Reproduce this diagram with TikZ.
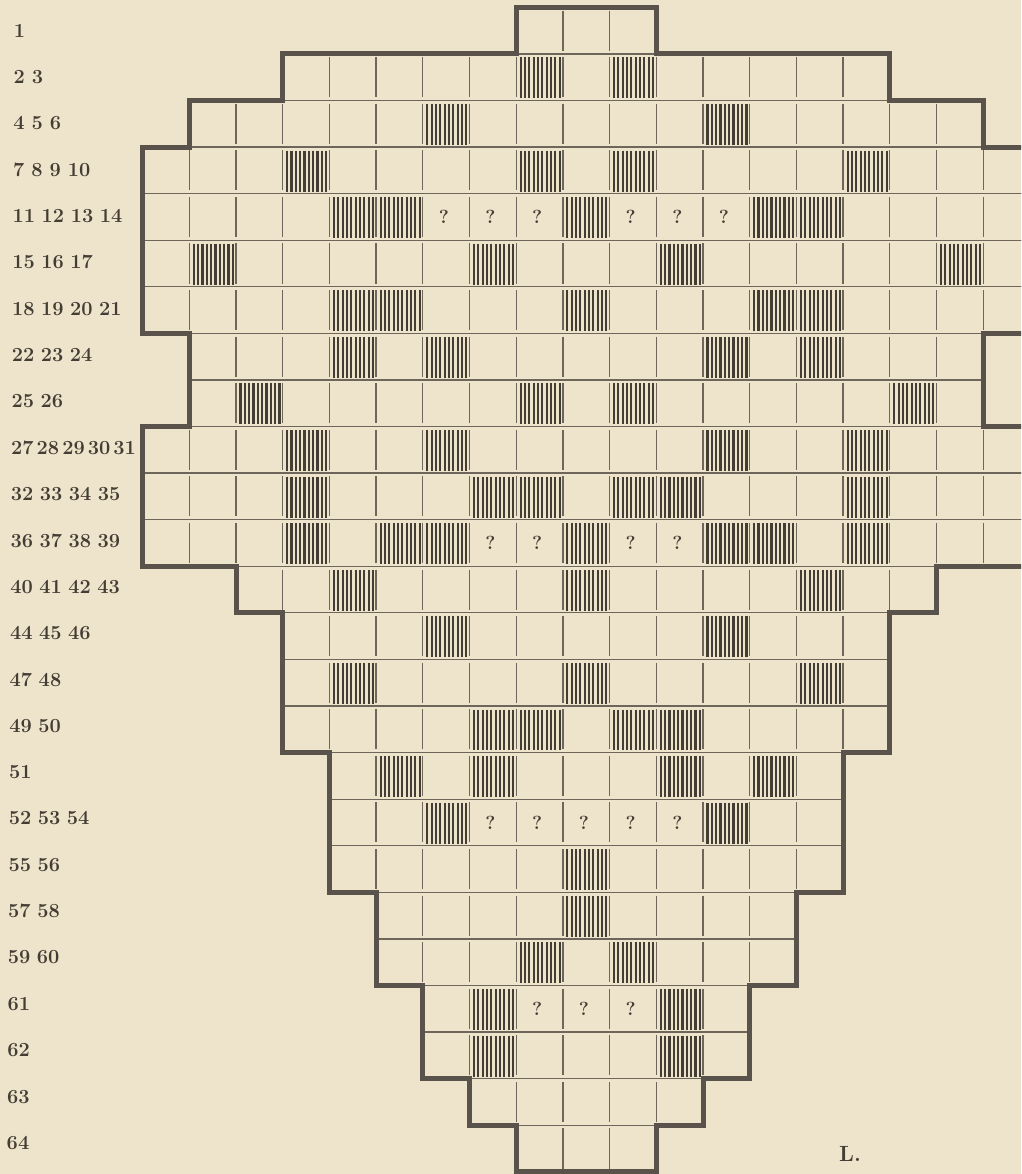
\documentclass[tikz,border=0pt]{standalone}
\usepackage{fontspec}
\definecolor{paper}{HTML}{EEE4CB}
\definecolor{gridc}{HTML}{6E665A}
\definecolor{inkc}{HTML}{443D34}
\definecolor{framec}{HTML}{5A534C}
\begin{document}
\begin{tikzpicture}[x=46.7pt, y=-46.58pt,
  gridline/.style={line width=1.3pt, draw=gridc},
  hatchline/.style={line width=2.1pt, draw=inkc},
  outline/.style={line width=5pt, draw=framec, line join=miter},
  rowlab/.style={anchor=west, inner sep=0pt, text=inkc, font=\fontsize{20}{20}\selectfont\bfseries},
  qmark/.style={inner sep=0pt, text=inkc, font=\fontsize{19}{19}\selectfont\bfseries}]
  \path[fill=paper, use as bounding box] (-142.6pt,7.3pt) rectangle (878.4pt,-1166.7pt);
  \clip (-142.6pt,7.3pt) rectangle (878.4pt,-1166.7pt);
  % thin grid, row by row: row/first column/last column
  \foreach \r/\a/\b in {0/8/10, 1/3/15, 2/1/17, 3/0/18, 4/0/18, 5/0/18, 6/0/18, 7/1/17, 8/1/17,
      9/0/18, 10/0/18, 11/0/18, 12/2/16, 13/3/15, 14/3/15, 15/3/15, 16/4/14, 17/4/14, 18/4/14,
      19/5/13, 20/5/13, 21/6/12, 22/6/12, 23/7/11, 24/8/10} {
    \draw[gridline] (\a,\r) -- ({\b+1},\r);
    \draw[gridline] (\a,\r+1) -- ({\b+1},\r+1);
    \pgfmathtruncatemacro\ja{\a+1}
    \foreach \j in {\ja,...,\b}
      \draw[gridline] (\j,\r+0.07) -- (\j,\r+0.93);
  }
  % hatched cells: column/row
  \foreach \c/\r in {8/1,10/1, 6/2,12/2, 3/3,8/3,10/3,15/3, 4/4,5/4,9/4,13/4,14/4,
      1/5,7/5,11/5,17/5, 4/6,5/6,9/6,13/6,14/6, 4/7,6/7,12/7,14/7, 2/8,8/8,10/8,16/8,
      3/9,6/9,12/9,15/9, 3/10,7/10,8/10,10/10,11/10,15/10, 3/11,5/11,6/11,9/11,12/11,13/11,15/11,
      4/12,9/12,14/12, 6/13,12/13, 4/14,9/14,14/14, 7/15,8/15,10/15,11/15, 5/16,7/16,11/16,13/16,
      6/17,12/17, 9/18, 9/19, 8/20,10/20, 7/21,11/21, 7/22,11/22}
    \foreach \k in {0,...,9}
      \draw[hatchline] ({\c+0.096+0.0928*\k},{\r+0.075}) -- ++(0,0.88);
  \foreach \c/\r in {6/4,7/4,8/4,10/4,11/4,12/4, 7/11,8/11,10/11,11/11,
      7/17,8/17,9/17,10/17,11/17, 8/21,9/21,10/21}
    \node[qmark] (q\c-\r) at (\c+0.45,\r+0.5) {?};
  \draw[outline] (8,0) -- (11,0) -- (11,1) -- (16,1) -- (16,2) -- (18,2) -- (18,3) -- (19,3)
    -- (19,7) -- (18,7) -- (18,9) -- (19,9) -- (19,12) -- (17,12) -- (17,13) -- (16,13)
    -- (16,16) -- (15,16) -- (15,19) -- (14,19) -- (14,21) -- (13,21) -- (13,23) -- (12,23)
    -- (12,24) -- (11,24) -- (11,25) -- (8,25) -- (8,24) -- (7,24) -- (7,23) -- (6,23)
    -- (6,21) -- (5,21) -- (5,19) -- (4,19) -- (4,16) -- (3,16) -- (3,13) -- (2,13)
    -- (2,12) -- (0,12) -- (0,9) -- (1,9) -- (1,7) -- (0,7) -- (0,3) -- (1,3) -- (1,2)
    -- (3,2) -- (3,1) -- (8,1) -- cycle;
  % row numbers: row/word space/text
  \foreach \r/\s/\t in {0/7/1, 1/7/2 3, 2/7/4 5 6, 3/7/7 8 9 10, 4/6.5/11 12 13 14, 5/6.5/15 16 17,
      6/6.5/18 19 20 21, 7/6.5/22 23 24, 8/6.5/25 26, 9/3/27 28 29 30 31, 10/6.5/32 33 34 35,
      11/6.5/36 37 38 39, 12/6.5/40 41 42 43, 13/6.5/44 45 46, 14/6.5/47 48, 15/6.5/49 50, 16/6.5/51,
      17/6.5/52 53 54, 18/6.5/55 56, 19/6.5/57 58, 20/6.5/59 60, 21/6.5/61, 22/6.5/62, 23/6.5/63, 24/6.5/64}
    \node[rowlab] (lab\r) at ({-2.76-0.0064*\r},{\r+0.5-0.005*\r}) {\spaceskip=\s pt\relax\t};
  \node[text=inkc, font=\fontsize{22}{22}\selectfont\bfseries] (sig) at (15.15,24.62) {L.};
\end{tikzpicture}
\end{document}
